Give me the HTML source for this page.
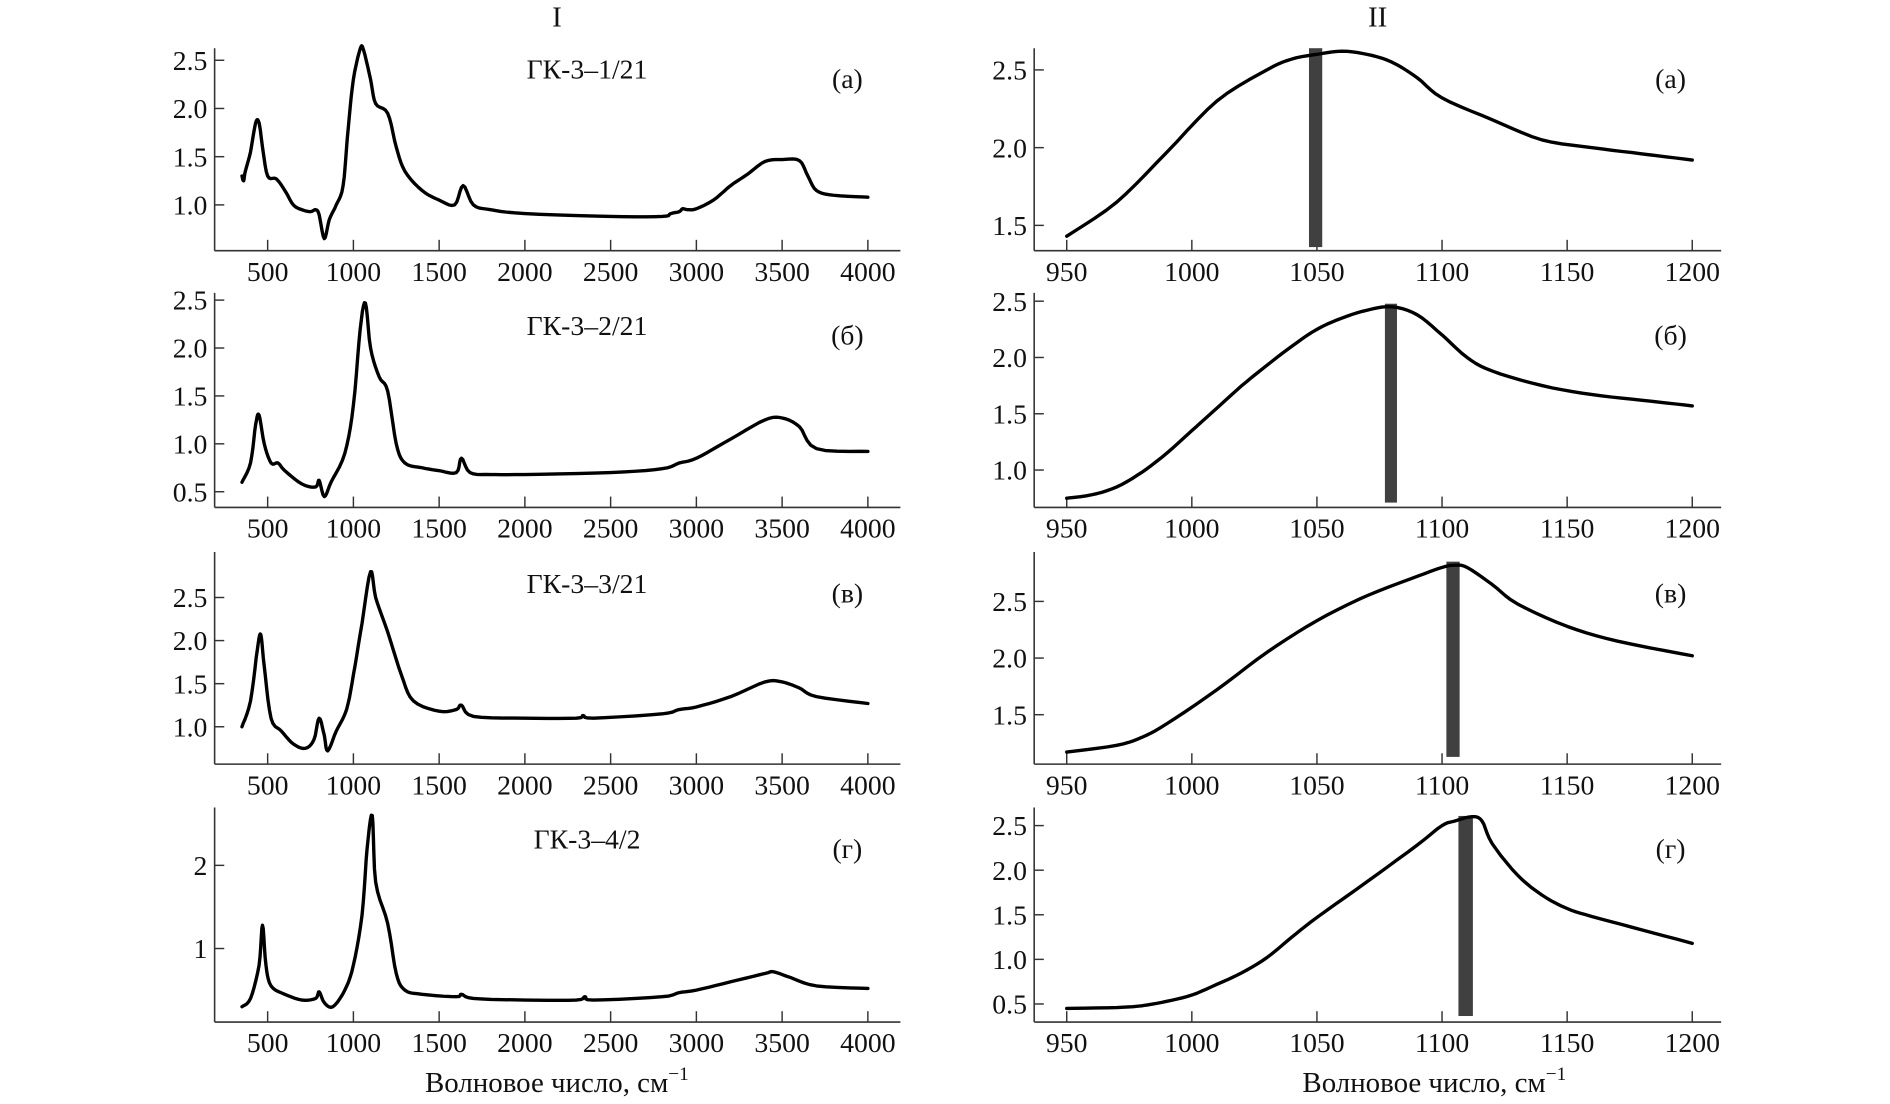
<!DOCTYPE html>
<html><head><meta charset="utf-8"><style>
html,body{margin:0;padding:0;background:#fff;}
svg{display:block;}
text{font-family:"Liberation Serif","DejaVu Serif",serif;fill:#111;}
</style></head><body>
<svg id="s" width="1890" height="1104" viewBox="0 0 1568 916" xmlns="http://www.w3.org/2000/svg">
<text x="462" y="22" font-size="24" text-anchor="middle">I</text>
<text x="1143" y="22" font-size="24" text-anchor="middle">II</text>
<text x="462" y="906" font-size="24" text-anchor="middle">Волновое число, см<tspan dy="-10" font-size="16">−1</tspan></text>
<text x="1190" y="906" font-size="24" text-anchor="middle">Волновое число, см<tspan dy="-10" font-size="16">−1</tspan></text>
</svg>
<script>
var NS="http://www.w3.org/2000/svg",S=document.getElementById('s');
function el(t,a,txt){var e=document.createElementNS(NS,t);for(var k in a)e.setAttribute(k,a[k]);if(txt!==undefined)e.textContent=txt;S.appendChild(e);return e;}
function smooth(d){var o=[];for(var i=0;i<d.length-2;i+=2){var x0=d[i],y0=d[i+1],x1=d[i+2],y1=d[i+3];var xm=i>=2?d[i-2]:x0,ym=i>=2?d[i-1]:y0;var xp=i+4<d.length?d[i+4]:x1,yp=i+4<d.length?d[i+5]:y1;for(var t=0;t<1;t+=0.2){var t2=t*t,t3=t2*t;var f=function(a,b,c,e){return 0.5*((2*b)+(-a+c)*t+(2*a-5*b+4*c-e)*t2+(-a+3*b-3*c+e)*t3);};o.push(f(xm,x0,x1,xp),f(ym,y0,y1,yp));}}o.push(d[d.length-2],d[d.length-1]);return o;}
function panel(o){
 var X=function(v){return o.x0+(v-o.xv0)*o.xs;},Y=function(v){return o.y0-(v-o.yv0)*o.ys;};
 el('line',{x1:o.ax,y1:o.top,x2:o.ax,y2:o.axy,stroke:'#333','stroke-width':1.3});
 el('line',{x1:o.ax,y1:o.axy,x2:o.axr,y2:o.axy,stroke:'#333','stroke-width':1.3});
 o.xt.forEach(function(v){var x=X(v);el('line',{x1:x,y1:o.axy,x2:x,y2:o.axy-9,stroke:'#333','stroke-width':1.2});el('text',{x:x,y:o.axy+25,'font-size':23,'text-anchor':'middle'},String(v));});
 o.yt.forEach(function(v){var y=Y(v[0]);el('line',{x1:o.ax,y1:y,x2:o.ax+8,y2:y,stroke:'#333','stroke-width':1.2});el('text',{x:o.ax-6,y:y+8,'font-size':23,'text-anchor':'end'},v[1]);});
 if(o.bar)el('rect',{x:o.bar[0],y:o.bar[1],width:o.bar[2],height:o.bar[3],fill:'#404040'});
 var d=smooth(o.d);var p='';for(var i=0;i<d.length;i+=2)p+=X(d[i]).toFixed(1)+','+Y(d[i+1]).toFixed(1)+' ';
 el('polyline',{points:p,fill:'none',stroke:'#000','stroke-width':2.8,'stroke-linejoin':'round','stroke-linecap':'round'});
 if(o.name)el('text',{x:487,y:o.ny,'font-size':23,'text-anchor':'middle'},o.name);
 el('text',{x:o.lx,y:o.ny+8,'font-size':23,'text-anchor':'middle'},o.lab);
}
var LX=[500,1000,1500,2000,2500,3000,3500,4000],RX=[950,1000,1050,1100,1150,1200];
var L={ax:178,axr:747,x0:222,xv0:500,xs:498/3500,lx:703},R={ax:858,axr:1428,x0:885,xv0:950,xs:519/250,lx:1386};
function mk(b,o){var r={};for(var k in b)r[k]=b[k];for(var k in o)r[k]=o[k];return r;}
panel(mk(L,{top:40,axy:208,y0:170,yv0:1.0,ys:80,xt:LX,yt:[[1,'1.0'],[1.5,'1.5'],[2,'2.0'],[2.5,'2.5']],name:'ГК-3–1/21',ny:65,lab:'(а)',
d:[350,1.3,360,1.25,370,1.35,400,1.55,430,1.85,450,1.85,470,1.6,500,1.3,550,1.27,600,1.15,650,1.0,700,0.95,750,0.93,780,0.95,800,0.9,830,0.65,860,0.85,900,1.0,940,1.2,970,1.8,1000,2.3,1040,2.62,1060,2.6,1100,2.3,1130,2.05,1200,1.95,1250,1.6,1300,1.35,1400,1.15,1500,1.05,1590,1.0,1640,1.2,1700,1.0,1800,0.95,2000,0.91,2500,0.88,2800,0.88,2850,0.91,2900,0.93,2920,0.96,2950,0.95,3000,0.96,3100,1.05,3200,1.2,3300,1.32,3400,1.45,3500,1.47,3600,1.46,3650,1.3,3700,1.15,3800,1.1,4000,1.08]}));
panel(mk(L,{top:243,axy:421,y0:408,yv0:0.5,ys:79.5,xt:LX,yt:[[0.5,'0.5'],[1,'1.0'],[1.5,'1.5'],[2,'2.0'],[2.5,'2.5']],name:'ГК-3–2/21',ny:278,lab:'(б)',
d:[350,0.6,400,0.8,430,1.2,450,1.3,480,1.0,520,0.8,560,0.8,600,0.72,700,0.58,780,0.55,800,0.62,830,0.45,870,0.6,950,0.9,1000,1.4,1040,2.2,1070,2.47,1100,2.0,1150,1.7,1200,1.55,1250,1.0,1300,0.8,1400,0.75,1500,0.72,1600,0.7,1630,0.85,1680,0.7,1800,0.68,2000,0.68,2500,0.7,2800,0.74,2900,0.8,3000,0.85,3200,1.05,3400,1.25,3500,1.27,3600,1.18,3700,0.95,4000,0.92]}));
panel(mk(L,{top:458,axy:634,y0:603,yv0:1.0,ys:71.5,xt:LX,yt:[[1,'1.0'],[1.5,'1.5'],[2,'2.0'],[2.5,'2.5']],name:'ГК-3–3/21',ny:492,lab:'(в)',
d:[350,1.0,400,1.3,440,1.9,460,2.07,480,1.7,520,1.1,580,0.95,650,0.8,720,0.75,770,0.85,800,1.1,830,0.9,850,0.72,900,0.95,960,1.2,1000,1.6,1050,2.2,1100,2.8,1130,2.5,1200,2.1,1280,1.6,1350,1.3,1500,1.18,1600,1.2,1630,1.25,1700,1.12,2000,1.1,2300,1.1,2340,1.13,2400,1.1,2800,1.15,2900,1.2,3000,1.23,3200,1.35,3400,1.52,3500,1.52,3600,1.45,3700,1.35,4000,1.27]}));
panel(mk(L,{top:670,axy:848,y0:787,yv0:1.0,ys:69,xt:LX,yt:[[1,'1'],[2,'2']],name:'ГК-3–4/2',ny:704,lab:'(г)',
d:[350,0.3,400,0.4,450,0.8,470,1.28,490,0.8,520,0.55,600,0.45,700,0.38,780,0.4,800,0.48,830,0.35,880,0.3,950,0.5,1000,0.8,1050,1.4,1080,2.2,1110,2.6,1130,1.8,1200,1.3,1250,0.7,1300,0.5,1400,0.45,1600,0.42,1630,0.45,1700,0.4,2000,0.38,2300,0.38,2350,0.42,2400,0.38,2800,0.42,2900,0.47,3000,0.5,3200,0.6,3400,0.7,3450,0.72,3550,0.65,3700,0.55,4000,0.52]}));
panel(mk(R,{top:40,axy:208,y0:187,yv0:1.5,ys:129,xt:RX,yt:[[1.5,'1.5'],[2,'2.0'],[2.5,'2.5']],ny:65,lab:'(а)',bar:[1086,40,11,165],
d:[950,1.43,970,1.65,990,1.97,1010,2.3,1030,2.5,1040,2.57,1050,2.6,1060,2.62,1070,2.6,1080,2.55,1090,2.45,1100,2.32,1120,2.18,1140,2.05,1160,2.0,1180,1.96,1200,1.92]}));
panel(mk(R,{top:243,axy:421,y0:390,yv0:1.0,ys:93.4,xt:RX,yt:[[1,'1.0'],[1.5,'1.5'],[2,'2.0'],[2.5,'2.5']],ny:278,lab:'(б)',bar:[1149,252,10,165],
d:[950,0.75,960,0.78,970,0.85,980,0.98,990,1.15,1000,1.35,1010,1.55,1020,1.75,1030,1.93,1040,2.1,1050,2.25,1060,2.35,1070,2.42,1080,2.45,1090,2.38,1100,2.2,1110,2.0,1120,1.88,1140,1.75,1160,1.67,1180,1.62,1200,1.57]}));
panel(mk(R,{top:458,axy:634,y0:593,yv0:1.5,ys:94,xt:RX,yt:[[1.5,'1.5'],[2,'2.0'],[2.5,'2.5']],ny:492,lab:'(в)',bar:[1200,466,11,162],
d:[950,1.17,970,1.23,980,1.3,990,1.42,1010,1.72,1030,2.05,1050,2.33,1070,2.55,1090,2.72,1100,2.8,1105,2.82,1110,2.8,1120,2.65,1130,2.48,1150,2.28,1170,2.15,1200,2.02]}));
panel(mk(R,{top:670,axy:848,y0:833,yv0:0.5,ys:74,xt:RX,yt:[[0.5,'0.5'],[1,'1.0'],[1.5,'1.5'],[2,'2.0'],[2.5,'2.5']],ny:704,lab:'(г)',bar:[1210,677,12,166],
d:[950,0.45,970,0.46,980,0.48,990,0.53,1000,0.6,1010,0.72,1020,0.85,1030,1.02,1040,1.25,1050,1.47,1070,1.87,1090,2.28,1100,2.5,1105,2.55,1112,2.6,1116,2.55,1120,2.3,1130,1.95,1140,1.72,1150,1.57,1160,1.48,1180,1.33,1200,1.18]}));
</script>
</body></html>
